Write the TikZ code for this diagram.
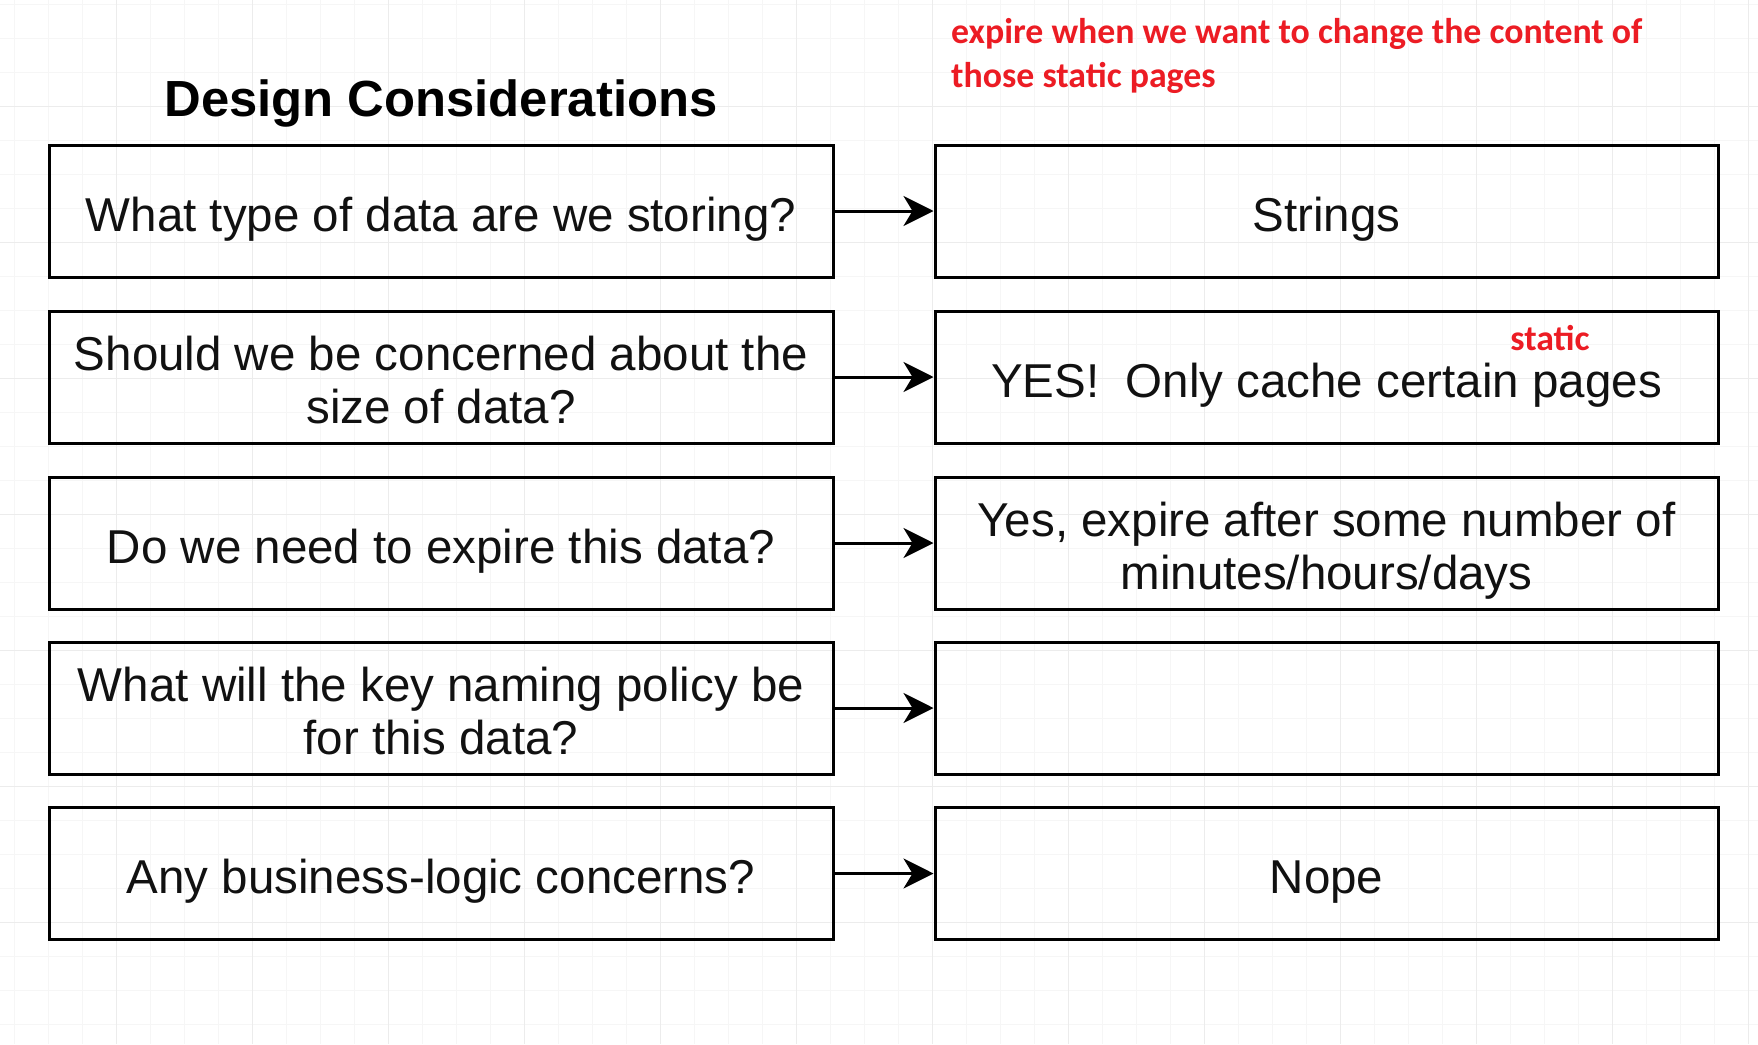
\documentclass[tikz,border=0pt]{standalone}
\usepackage{fontspec}
\setmainfont{Liberation Sans}
\newfontfamily\redfont{Carlito}
\usetikzlibrary{arrows.meta}
\definecolor{annred}{RGB}{236,28,36}
\definecolor{boxtext}{RGB}{17,17,17}
\definecolor{gridminor}{RGB}{246,246,246}
\definecolor{gridmajor}{RGB}{236,236,236}
\newcommand{\qtop}{\rule{0pt}{50.5pt}}
\newcommand{\qbot}{\rule[-10pt]{0pt}{10pt}}
\tikzset{
  qbox/.style={draw=black, line width=3pt, minimum width=784pt, minimum height=132pt,
    align=center, text=boxtext, inner sep=0pt, font=\fontsize{47.5}{53}\selectfont},
  arr/.style={draw=black, line width=3pt, -{Stealth[length=30pt,width=30pt,inset=9pt]}},
  redtxt/.style={text=annred, inner sep=0pt, font=\redfont\bfseries\fontsize{35.8}{43}\selectfont},
}
\begin{document}
\begin{tikzpicture}[x=1pt,y=-1pt]
\useasboundingbox (0,0) rectangle (1758,1044);
\fill[white] (0,0) rectangle (1758,1044);
% faint grid
\foreach \gx in {14,48,...,1758} \draw[gridminor, line width=1pt] (\gx,0) -- (\gx,1044);
\foreach \gy in {4,38,...,1044} \draw[gridminor, line width=1pt] (0,\gy) -- (1758,\gy);
\foreach \gx in {116,252,...,1758} \draw[gridmajor, line width=1pt] (\gx,0) -- (\gx,1044);
\foreach \gy in {106,242,...,1044} \draw[gridmajor, line width=1pt] (0,\gy) -- (1758,\gy);

% title
\node[anchor=base, inner sep=0pt, text=black, font=\bfseries\fontsize{50.8}{56}\selectfont] (title) at (441,116) {Design Considerations};

% red annotations
\node[redtxt, anchor=base west] (red1) at (951,43.5) {expire when we want to change the content of};
\node[redtxt, anchor=base west] (red2) at (951,87.5) {those static pages};

% left boxes
\node[qbox] (q1) at (441,211) {\qtop\qbot What type of data are we storing?};
\node[qbox] (q2) at (441,377) {\qtop Should we be concerned about the\\size of data?\qbot};
\node[qbox] (q3) at (441,543) {\qtop\qbot Do we need to expire this data?};
\node[qbox] (q4) at (441,708) {\qtop What will the key naming policy be\\for this data?\qbot};
\node[qbox] (q5) at (441,873.5) {\qtop\qbot Any business-logic concerns?};

% right boxes
\node[qbox, minimum width=783pt] (a1) at (1326.5,211) {\qtop\qbot Strings};
\node[qbox, minimum width=783pt] (a2) at (1326.5,377) {\qtop\qbot YES!\ \ Only cache certain pages};
\node[qbox, minimum width=783pt] (a3) at (1326.5,543) {\qtop Yes, expire after some number of\\minutes/hours/days\qbot};
\node[qbox, minimum width=783pt] (a4) at (1326.5,708) {};
\node[qbox, minimum width=783pt] (a5) at (1326.5,873.5) {\qtop\qbot Nope};

\node[redtxt, anchor=center] (red3) at (1550,338) {static};

% arrows
\draw[arr] (q1.east) -- (a1.west);
\draw[arr] (q2.east) -- (a2.west);
\draw[arr] (q3.east) -- (a3.west);
\draw[arr] (q4.east) -- (a4.west);
\draw[arr] (q5.east) -- (a5.west);
\end{tikzpicture}
\end{document}
